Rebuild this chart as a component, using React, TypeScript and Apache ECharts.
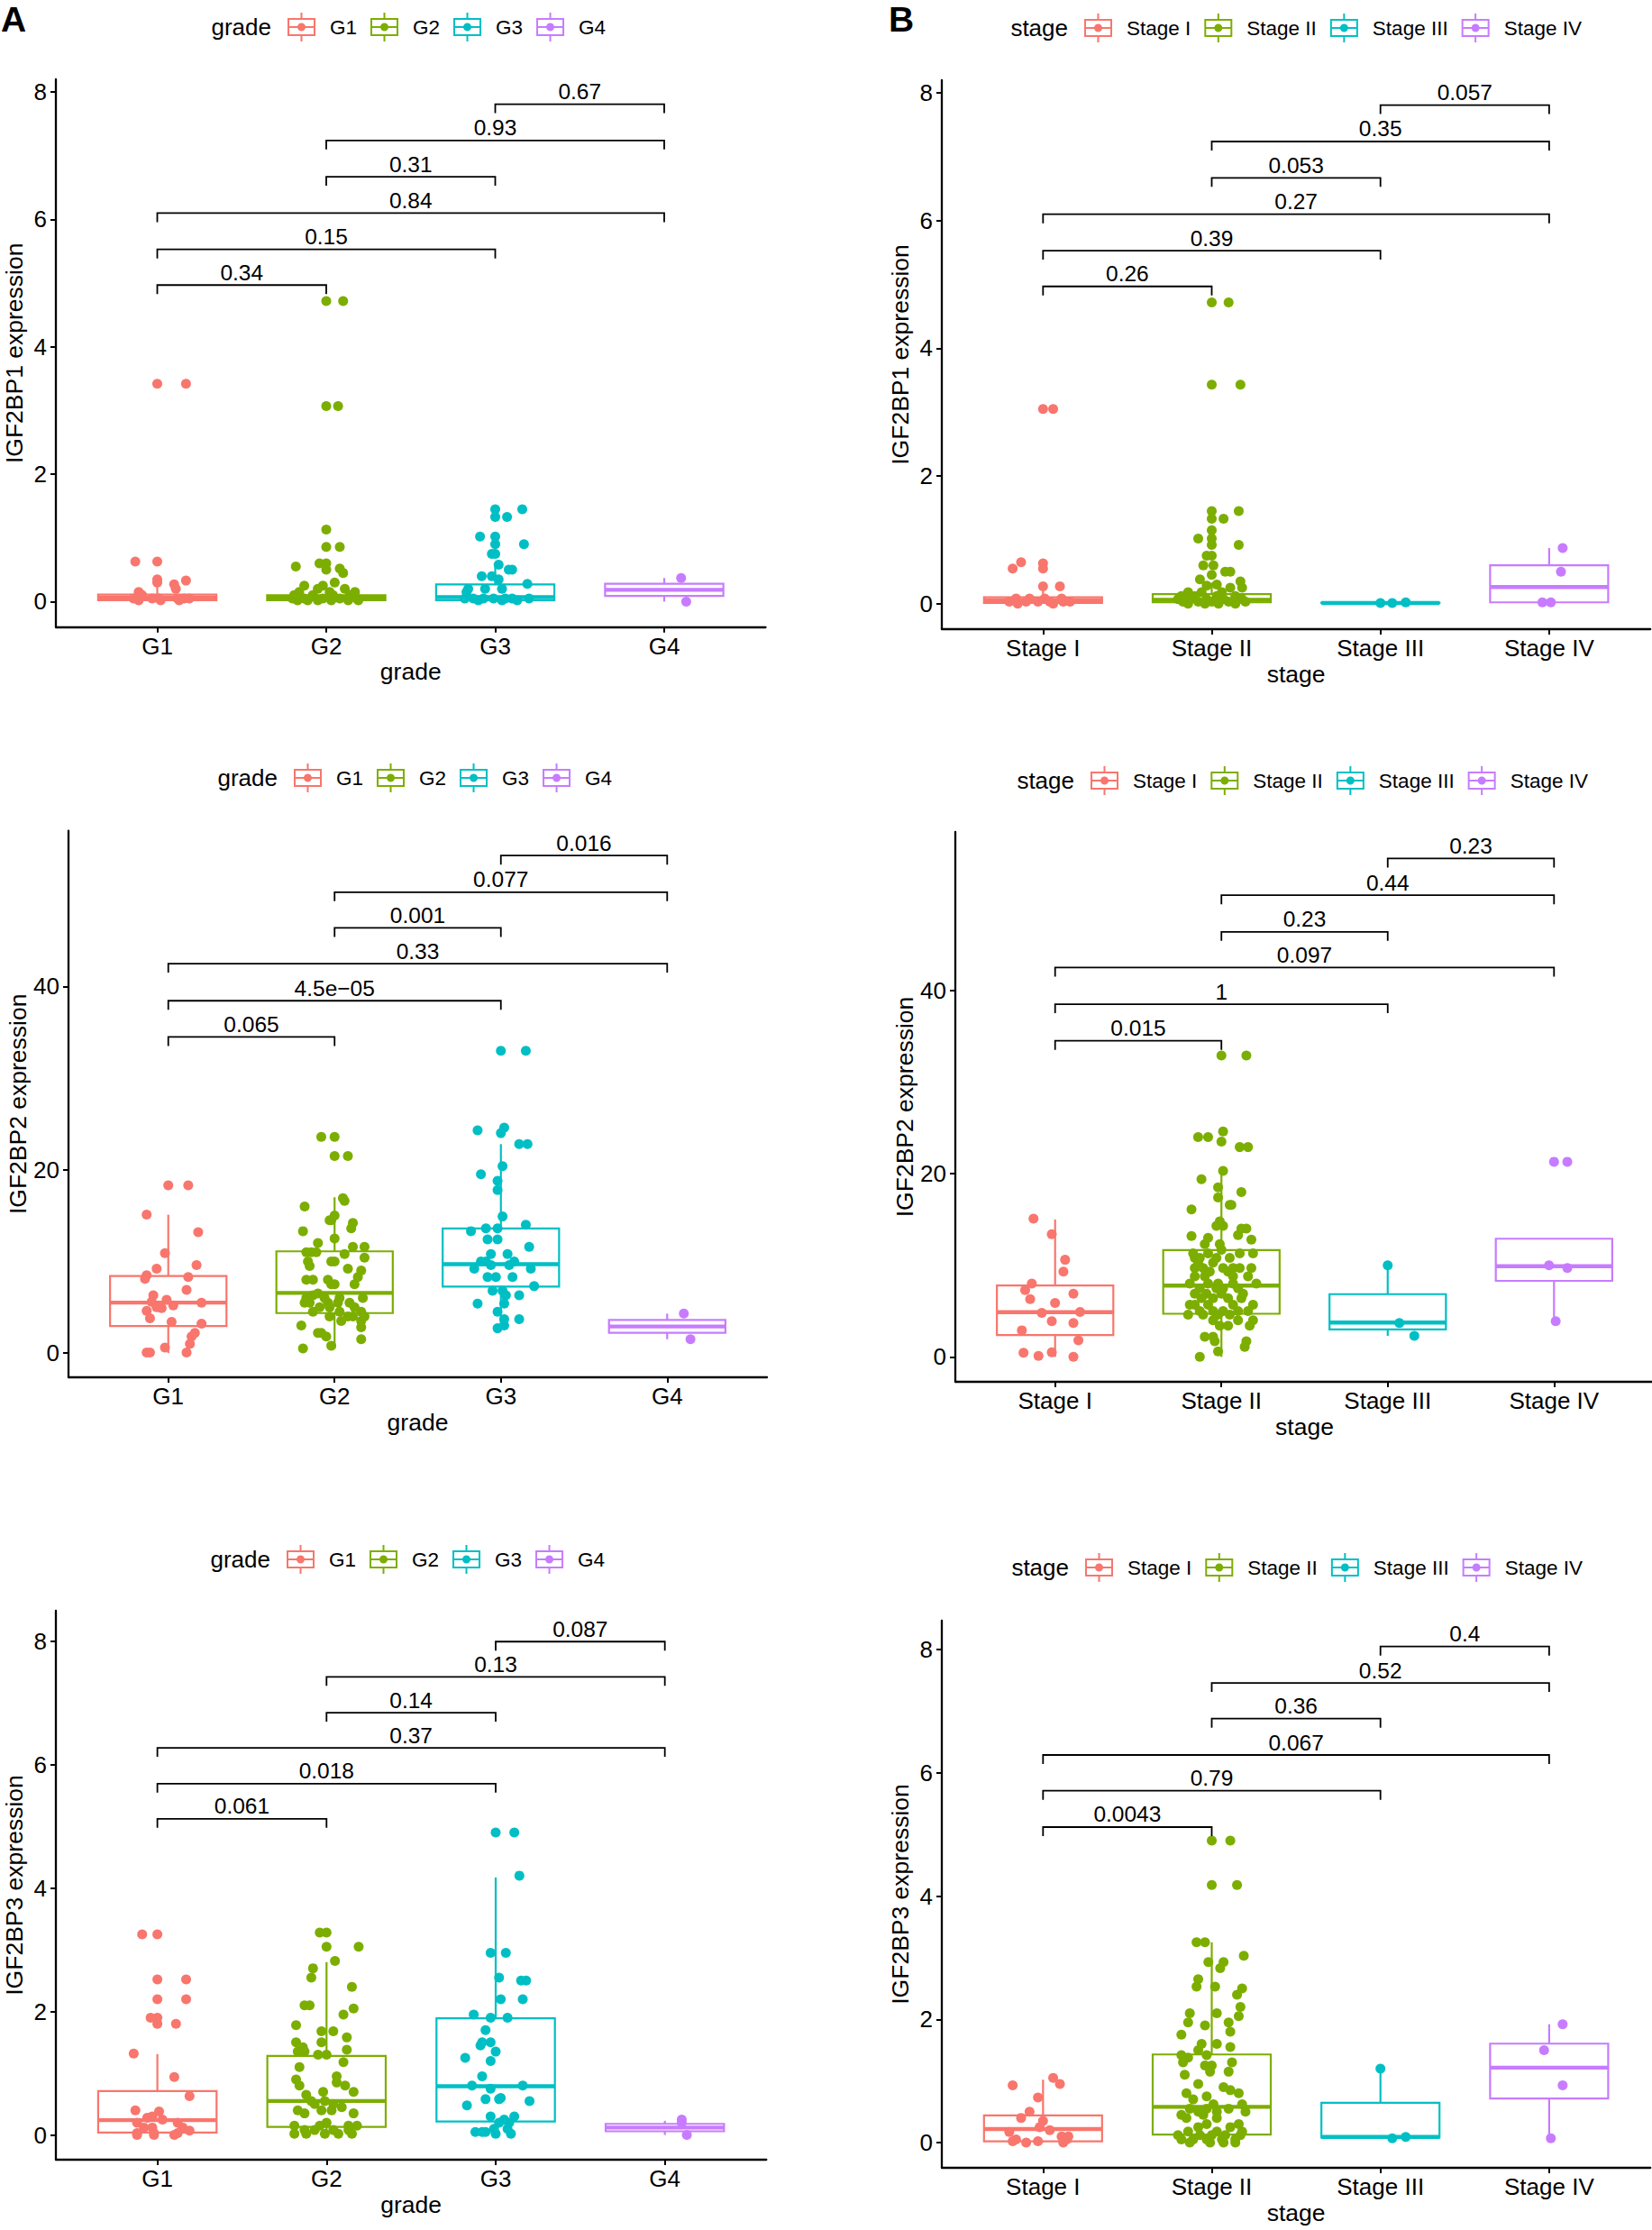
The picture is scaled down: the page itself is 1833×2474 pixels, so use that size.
import React, { useEffect, useRef } from "react";
import * as echarts from "echarts";

const FONT = '"Liberation Sans", Arial, Helvetica, sans-serif';
const GRADES = ["G1", "G2", "G3", "G4"];
const STAGES = ["Stage I", "Stage II", "Stage III", "Stage IV"];
const COLORS = ["#F8766D", "#7CAE00", "#00BFC4", "#C77CFF"];
const PAIRS = [[1, 2], [1, 3], [1, 4], [2, 3], [2, 4], [3, 4]];
const Y_TICKS_SMALL = [0, 2, 4, 6, 8];
const Y_TICKS_LARGE = [0, 20, 40];

// ---------- IGF2BP1 by grade (A1) ----------
const A1_BOX = [[0, 0.02, 0.06, 0.11, 0.25], [0, 0.02, 0.06, 0.1, 0.2], [0, 0.02, 0.07, 0.27, 0.6], [0, 0.09, 0.185, 0.28, 0.37]];
const A1_G1 = [[0, 3.42], [0.17, 3.42], [-0.13, 0.63], [0, 0.63], [0, 0.35], [0, 0.3], [0.17, 0.33], [0.1, 0.27], [0.11, 0.2], [-0.11, 0.15], [-0.1, 0.12], [-0.09, 0.1], [-0.14, 0.05], [-0.03, 0.05], [0.01, 0.05], [0.12, 0.05], [0.16, 0.05], [0.19, 0.05], [-0.11, 0.02], [0.02, 0.02], [0.13, 0.02]];
const A1_G2 = [[0, 4.72], [0.1, 4.72], [0, 3.07], [0.07, 3.07], [0, 1.13], [0, 0.86], [0.08, 0.86], [-0.18, 0.55], [-0.04, 0.6], [0, 0.6], [0, 0.5], [0.08, 0.52], [0.1, 0.45], [0.05, 0.3], [-0.13, 0.25], [-0.02, 0.25], [-0.05, 0.2], [0.11, 0.2], [-0.16, 0.15], [0.02, 0.15], [0.17, 0.15], [-0.19, 0.1], [-0.08, 0.1], [0.04, 0.1], [0.14, 0.1], [-0.2, 0.05], [-0.13, 0.05], [-0.02, 0.05], [0.08, 0.05], [0.18, 0.05], [-0.17, 0.02], [-0.11, 0.02], [-0.05, 0.02], [0.03, 0.02], [0.13, 0.02], [0.19, 0.02]];
const A1_G3 = [[0, 1.45], [0.16, 1.45], [0, 1.33], [0.07, 1.33], [-0.09, 1.02], [0, 1.02], [0, 0.9], [0.17, 0.9], [-0.02, 0.75], [0, 0.75], [0.02, 0.58], [0.08, 0.5], [0.1, 0.5], [-0.08, 0.4], [-0.02, 0.4], [0.02, 0.35], [0.19, 0.28], [-0.16, 0.2], [-0.06, 0.2], [0.04, 0.2], [-0.17, 0.15], [-0.18, 0.05], [-0.13, 0.05], [-0.07, 0.05], [-0.01, 0.05], [0.06, 0.05], [0.1, 0.05], [0.2, 0.05], [-0.1, 0.02], [0.04, 0.02], [0.13, 0.02]];
const A1_G4 = [[0.1, 0.37], [0.13, 0]];
const A1_BRACKET_Y = [4.97, 5.53, 6.1, 6.67, 7.24, 7.81];
const A1_P = ["0.34", "0.15", "0.84", "0.31", "0.93", "0.67"];

// ---------- IGF2BP1 by stage (B1) ----------
const B1_BOX = [[0, 0.01, 0.05, 0.1, 0.2], [0, 0.02, 0.06, 0.15, 0.33], [0.01, 0.01, 0.01, 0.015, 0.02], [0.02, 0.02, 0.26, 0.6, 0.87]];
const B1_S1 = [[0, 3.05], [0.06, 3.05], [-0.13, 0.65], [-0.18, 0.55], [0, 0.63], [0, 0.55], [0, 0.27], [0.1, 0.27], [-0.16, 0.08], [-0.08, 0.08], [0.01, 0.08], [0.11, 0.08], [-0.2, 0.03], [-0.1, 0.03], [-0.03, 0.03], [0.04, 0.03], [0.12, 0.03], [0.16, 0.03], [-0.15, 0], [0.06, 0]];
const B1_S2 = [[0, 4.72], [0.1, 4.72], [0, 3.43], [0.17, 3.43], [0, 1.45], [0.16, 1.45], [0.07, 1.33], [0, 1.33], [0, 1.15], [-0.08, 1.02], [0, 1.02], [0, 0.92], [0.16, 0.92], [-0.03, 0.75], [0, 0.75], [-0.05, 0.6], [0.01, 0.6], [0.08, 0.5], [0.11, 0.5], [0, 0.45], [-0.07, 0.38], [0.17, 0.35], [0.11, 0.25], [0.18, 0.25], [0.03, 0.3], [-0.03, 0.28], [-0.14, 0.18], [-0.06, 0.18], [0.06, 0.18], [-0.18, 0.12], [-0.1, 0.12], [0.03, 0.12], [0.14, 0.12], [-0.2, 0.07], [-0.13, 0.07], [-0.03, 0.07], [0.07, 0.07], [0.18, 0.07], [-0.17, 0.03], [-0.08, 0.03], [0, 0.03], [0.1, 0.03], [0.2, 0.03], [-0.14, 0], [-0.04, 0], [0.04, 0], [0.14, 0]];
const B1_S3 = [[0, 0.01], [0.07, 0.01], [0.15, 0.02]];
const B1_S4 = [[0.08, 0.87], [0.07, 0.5], [-0.04, 0.02], [0.01, 0.02]];
const B1_BRACKET_Y = [4.97, 5.53, 6.1, 6.67, 7.24, 7.81];
const B1_P = ["0.26", "0.39", "0.27", "0.053", "0.35", "0.057"];

// ---------- IGF2BP2 by grade (A2) ----------
const A2_BOX = [[0, 2.95, 5.5, 8.4, 15.1], [0.5, 4.36, 6.56, 11.1, 17.0], [2.7, 7.25, 9.7, 13.6, 22.8], [1.5, 2.2, 2.9, 3.6, 4.3]];
const A2_G1 = [[0, 18.3], [0.12, 18.3], [-0.13, 15.1], [0.18, 13.2], [-0.02, 10.9], [0.17, 9.6], [-0.07, 9.2], [-0.13, 8.5], [-0.14, 8.1], [0.12, 8.3], [0.11, 6.9], [-0.09, 6.3], [-0.01, 5.8], [-0.1, 5.6], [0.2, 5.5], [0.03, 5.2], [-0.07, 5.0], [-0.04, 4.9], [-0.13, 4.6], [-0.11, 3.8], [0.02, 3.4], [0.2, 3.2], [0.16, 2.2], [0.14, 1.8], [0.13, 1.0], [-0.02, 0.6], [-0.13, 0.05], [-0.11, 0.05], [0.11, 0.05]];
const A2_G2 = [[-0.08, 23.6], [0, 23.6], [0, 21.5], [0.08, 21.5], [0.05, 16.9], [0.06, 16.6], [-0.18, 16.0], [0, 15.0], [-0.02, 14.5], [-0.03, 14.5], [0.11, 14.2], [0.1, 13.6], [-0.19, 13.3], [0, 12.5], [-0.1, 12.0], [0.11, 11.6], [0.18, 11.6], [-0.17, 11.0], [-0.14, 11.0], [-0.11, 11.0], [0.06, 10.8], [0.18, 10.4], [-0.16, 10.0], [-0.02, 10.0], [0, 10.0], [-0.15, 9.5], [0.08, 9.2], [0.16, 9.0], [0.14, 8.3], [-0.17, 8.0], [-0.13, 8.0], [-0.04, 8.0], [-0.02, 7.5], [0, 7.5], [0.12, 7.5], [-0.1, 6.5], [-0.13, 6.3], [-0.17, 6.0], [-0.06, 6.0], [0.03, 6.0], [0.17, 6.0], [-0.18, 5.5], [-0.15, 5.5], [-0.04, 5.5], [0.02, 5.5], [0.09, 5.5], [-0.09, 5.0], [-0.03, 5.0], [0.12, 5.0], [-0.13, 4.5], [0.03, 4.5], [0.16, 4.5], [-0.03, 4.0], [0.08, 4.0], [0.11, 4.0], [0.18, 4.0], [0.04, 3.5], [0.16, 3.5], [-0.2, 3.0], [0.16, 2.8], [-0.1, 2.2], [-0.08, 2.2], [-0.05, 1.8], [0.16, 1.5], [-0.02, 0.8], [-0.19, 0.5]];
const A2_G3 = [[0, 33.0], [0.15, 33.0], [0.02, 24.6], [0, 24.0], [-0.14, 24.3], [0.11, 22.8], [0.16, 22.8], [0.01, 20.4], [-0.12, 19.5], [-0.02, 18.8], [-0.02, 17.8], [0.01, 14.9], [0.15, 14.0], [-0.09, 13.6], [-0.02, 13.6], [-0.18, 13.3], [-0.08, 12.4], [-0.02, 12.4], [0.17, 11.6], [-0.06, 10.8], [0.04, 10.8], [-0.12, 10.0], [-0.09, 10.0], [0.08, 10.0], [-0.06, 9.6], [0.05, 9.6], [-0.16, 9.2], [0.18, 9.2], [-0.08, 8.3], [-0.03, 8.3], [0.07, 8.3], [0.2, 7.3], [-0.05, 6.8], [0.01, 6.8], [0.03, 6.3], [0.11, 6.3], [-0.14, 5.4], [0.02, 5.4], [-0.02, 4.5], [0.02, 3.7], [0.11, 3.7], [0.02, 3.0], [-0.02, 2.7]];
const A2_G4 = [[0.1, 4.3], [0.14, 1.5]];
const A2_BRACKET_Y = [34.5, 38.45, 42.5, 46.4, 50.3, 54.3];
const A2_P = ["0.065", "4.5e\u221205", "0.33", "0.001", "0.077", "0.016"];

// ---------- IGF2BP2 by stage (B2) ----------
const B2_BOX = [[0, 2.39, 4.88, 7.79, 15.0], [0, 4.71, 7.79, 11.65, 20.0], [2.3, 3.0, 3.75, 6.85, 10.0], [3.9, 8.3, 9.9, 12.9, 12.9]];
const B2_S1 = [[-0.13, 15.1], [-0.02, 13.4], [0.06, 10.6], [0.05, 9.3], [-0.14, 8.0], [-0.18, 7.3], [0.11, 6.9], [-0.15, 6.3], [0, 5.9], [-0.08, 4.8], [0.15, 4.9], [-0.02, 3.9], [0.11, 3.7], [-0.2, 2.9], [0.14, 1.8], [-0.19, 0.45], [-0.02, 0.5], [-0.1, 0.1], [0.11, 0]];
const B2_S2 = [[0, 32.9], [0.15, 32.9], [0.01, 24.6], [-0.14, 24.0], [-0.08, 24.0], [0, 23.5], [0.11, 22.9], [0.16, 22.9], [0.01, 20.3], [-0.12, 19.4], [-0.02, 18.5], [0.12, 18.0], [-0.02, 17.4], [0.05, 16.6], [0.06, 16.6], [-0.18, 16.1], [-0.01, 14.8], [-0.03, 14.3], [0.01, 14.3], [0.12, 14.0], [0.15, 14.0], [0.1, 13.3], [-0.08, 13.0], [-0.18, 13.2], [0.18, 12.8], [-0.1, 12.3], [-0.01, 12.3], [0, 11.7], [-0.17, 11.3], [-0.08, 11.3], [0.11, 11.3], [0.19, 11.3], [-0.16, 10.8], [-0.13, 10.8], [-0.03, 10.8], [0.05, 10.8], [-0.14, 10.3], [-0.05, 10.3], [-0.16, 9.7], [-0.11, 9.7], [0.01, 9.7], [0.07, 9.7], [0.11, 9.7], [0.18, 9.7], [-0.07, 9.3], [0.04, 9.3], [-0.16, 8.8], [-0.1, 8.8], [0.07, 8.8], [0.16, 8.8], [-0.19, 8.0], [-0.08, 8.0], [-0.02, 8.0], [0.07, 8.0], [0.21, 8.0], [-0.13, 7.5], [-0.03, 7.5], [0.01, 7.5], [0.1, 7.5], [-0.16, 6.9], [-0.09, 6.9], [0, 6.9], [0.13, 6.9], [-0.12, 6.4], [-0.05, 6.4], [0.04, 6.4], [0.12, 6.4], [-0.19, 5.7], [-0.16, 5.7], [-0.08, 5.7], [0.07, 5.7], [0.19, 5.7], [-0.13, 5.0], [-0.05, 5.0], [0.01, 5.0], [0.1, 5.0], [0.16, 5.0], [-0.2, 4.6], [-0.11, 4.6], [-0.02, 4.6], [0.05, 4.6], [-0.05, 4.0], [0.1, 4.0], [0.19, 4.0], [-0.01, 3.4], [0.04, 3.4], [0.17, 3.4], [-0.1, 2.2], [-0.05, 2.2], [-0.04, 1.7], [0.15, 1.7], [0.14, 1.1], [-0.02, 0.6], [-0.13, 0]];
const B2_S3 = [[0, 10.0], [0.07, 3.7], [0.16, 2.3]];
const B2_S4 = [[0, 21.3], [0.08, 21.3], [-0.03, 10.0], [0.08, 9.7], [0.01, 3.9]];
const B2_BRACKET_Y = [34.5, 38.5, 42.5, 46.4, 50.4, 54.4];
const B2_P = ["0.015", "1", "0.097", "0.23", "0.44", "0.23"];

// ---------- IGF2BP3 by grade (A3) ----------
const A3_BOX = [[0, 0.04, 0.24, 0.71, 1.31], [0, 0.13, 0.55, 1.28, 2.8], [0, 0.22, 0.79, 1.89, 4.17], [0, 0.06, 0.12, 0.18, 0.23]];
const A3_G1 = [[-0.09, 3.25], [0, 3.25], [0, 2.52], [0.17, 2.52], [0, 2.2], [0.17, 2.2], [-0.04, 1.9], [0, 1.9], [0, 1.8], [0.11, 1.8], [-0.14, 1.32], [0.1, 0.94], [0.19, 0.63], [-0.13, 0.4], [0.01, 0.38], [-0.03, 0.3], [-0.06, 0.28], [0.03, 0.25], [-0.12, 0.2], [0.12, 0.2], [-0.08, 0.12], [-0.03, 0.12], [0.15, 0.12], [0.19, 0.07], [-0.12, 0.03], [-0.02, 0.03], [0.12, 0.03], [-0.12, 0], [-0.02, 0], [0.1, 0]];
const A3_G2 = [[-0.04, 3.28], [0, 3.28], [0, 3.05], [0.19, 3.05], [0.05, 2.82], [-0.08, 2.7], [-0.09, 2.55], [0.15, 2.4], [-0.13, 2.1], [-0.1, 2.1], [0.16, 2.05], [0.1, 1.95], [-0.18, 1.78], [-0.03, 1.68], [0.04, 1.68], [0.12, 1.58], [-0.18, 1.5], [-0.03, 1.5], [-0.14, 1.42], [0.12, 1.38], [-0.17, 1.35], [-0.13, 1.35], [-0.05, 1.3], [0, 1.3], [0.1, 1.18], [-0.16, 1.1], [0.06, 0.95], [-0.18, 0.9], [0.06, 0.85], [-0.16, 0.8], [0.11, 0.8], [-0.02, 0.7], [0.16, 0.7], [-0.12, 0.65], [-0.09, 0.55], [-0.01, 0.55], [-0.07, 0.5], [0.04, 0.5], [0.09, 0.45], [-0.17, 0.4], [-0.03, 0.4], [0.03, 0.4], [-0.13, 0.35], [0.16, 0.35], [0, 0.2], [-0.19, 0.15], [-0.04, 0.15], [0.13, 0.15], [0.18, 0.15], [-0.13, 0.08], [-0.07, 0.08], [0.04, 0.08], [0.13, 0.08], [-0.19, 0.02], [-0.12, 0.02], [-0.01, 0.02], [0.07, 0.02], [0.15, 0.02]];
const A3_G3 = [[0, 4.9], [0.11, 4.9], [0.14, 4.2], [-0.03, 2.95], [0.06, 2.95], [0.02, 2.55], [0.15, 2.5], [0.18, 2.5], [0.03, 2.2], [0.16, 2.2], [-0.13, 1.95], [-0.03, 1.9], [0.07, 1.9], [-0.06, 1.7], [-0.08, 1.5], [-0.03, 1.5], [-0.09, 1.45], [0, 1.35], [-0.18, 1.25], [-0.03, 1.2], [-0.08, 0.95], [-0.14, 0.8], [0.16, 0.8], [-0.03, 0.75], [0.03, 0.6], [-0.06, 0.58], [0.02, 0.58], [0.2, 0.55], [-0.17, 0.48], [-0.03, 0.3], [0.11, 0.3], [0.05, 0.25], [0.02, 0.2], [0.08, 0.2], [-0.01, 0.1], [0.07, 0.1], [-0.12, 0.05], [-0.08, 0.05], [-0.06, 0.05], [0, 0.02], [0.09, 0.02]];
const A3_G4 = [[0.1, 0.25], [0.1, 0.2], [0.13, 0]];
const A3_BRACKET_Y = [5.12, 5.69, 6.27, 6.84, 7.42, 7.99];
const A3_P = ["0.061", "0.018", "0.37", "0.14", "0.13", "0.087"];

// ---------- IGF2BP3 by stage (B3) ----------
const B3_BOX = [[0, 0.02, 0.22, 0.44, 1.02], [0, 0.13, 0.58, 1.43, 3.25], [0.07, 0.08, 0.09, 0.645, 1.2], [0.07, 0.715, 1.215, 1.605, 1.92]];
const B3_S1 = [[0.06, 1.05], [0.1, 0.95], [-0.18, 0.93], [-0.03, 0.73], [-0.08, 0.5], [-0.13, 0.4], [0, 0.35], [-0.02, 0.25], [0.04, 0.2], [-0.2, 0.17], [0.11, 0.1], [0.15, 0.1], [-0.16, 0.05], [0.14, 0.05], [-0.18, 0.02], [-0.1, 0], [-0.03, 0.02], [0.12, 0]];
const B3_S2 = [[0, 4.9], [0.11, 4.9], [0, 4.18], [0.15, 4.18], [-0.09, 3.25], [-0.04, 3.25], [0.19, 3.03], [-0.02, 2.93], [0.07, 2.93], [0.05, 2.83], [-0.08, 2.65], [-0.09, 2.53], [0.02, 2.53], [0.18, 2.5], [0.15, 2.4], [0.17, 2.2], [-0.13, 2.1], [0.03, 2.1], [0.16, 2.05], [-0.14, 1.95], [0.1, 1.95], [-0.04, 1.9], [0.11, 1.8], [-0.18, 1.75], [-0.06, 1.6], [0.03, 1.6], [0.11, 1.55], [-0.08, 1.5], [-0.18, 1.42], [-0.03, 1.42], [-0.14, 1.38], [-0.17, 1.3], [0.12, 1.3], [-0.04, 1.25], [0, 1.25], [-0.01, 1.15], [0.1, 1.15], [-0.16, 1.1], [-0.08, 0.95], [0.07, 0.9], [0.11, 0.85], [-0.15, 0.8], [0.16, 0.8], [-0.03, 0.75], [-0.11, 0.7], [0.01, 0.62], [0.18, 0.62], [-0.13, 0.55], [-0.03, 0.55], [0.1, 0.55], [-0.08, 0.5], [0.03, 0.5], [0.2, 0.5], [-0.18, 0.45], [-0.05, 0.45], [-0.15, 0.4], [0.03, 0.4], [-0.03, 0.3], [0.16, 0.3], [-0.08, 0.25], [0.11, 0.25], [-0.14, 0.18], [0.03, 0.18], [0.18, 0.18], [-0.2, 0.12], [-0.07, 0.12], [0, 0.12], [0.08, 0.12], [0.17, 0.12], [-0.18, 0.05], [-0.11, 0.05], [-0.03, 0.05], [0.06, 0.05], [0.14, 0.05], [-0.13, 0], [-0.01, 0], [0.07, 0], [0.14, 0]];
const B3_S3 = [[0, 1.2], [0.07, 0.07], [0.15, 0.09]];
const B3_S4 = [[0.08, 1.92], [-0.03, 1.5], [0.08, 0.93], [0.01, 0.07]];
const B3_BRACKET_Y = [5.12, 5.71, 6.29, 6.88, 7.46, 8.05];
const B3_P = ["0.0043", "0.79", "0.067", "0.36", "0.52", "0.4"];

// ---------- layout (positions / sizes only) ----------
const PANELS = [
  { cats: GRADES, box: A1_BOX, pts: [A1_G1, A1_G2, A1_G3, A1_G4], by: A1_BRACKET_Y, bp: A1_P, yname: "IGF2BP1 expression", xname: "grade", ymin: -0.4, ymax: 8.2, yticks: Y_TICKS_SMALL, grid: { left: 62, top: 88, width: 787.5, height: 607.7 }, legendLeft: 319, legendCY: 30 },
  { cats: STAGES, box: B1_BOX, pts: [B1_S1, B1_S2, B1_S3, B1_S4], by: B1_BRACKET_Y, bp: B1_P, yname: "IGF2BP1 expression", xname: "stage", ymin: -0.4, ymax: 8.2, yticks: Y_TICKS_SMALL, grid: { left: 1045, top: 89, width: 786.2, height: 609 }, legendLeft: 1203, legendCY: 31 },
  { cats: GRADES, box: A2_BOX, pts: [A2_G1, A2_G2, A2_G3, A2_G4], by: A2_BRACKET_Y, bp: A2_P, yname: "IGF2BP2 expression", xname: "grade", ymin: -2.65, ymax: 57.0, yticks: Y_TICKS_LARGE, grid: { left: 76, top: 921.7, width: 775, height: 606.3 }, legendLeft: 326, legendCY: 863 },
  { cats: STAGES, box: B2_BOX, pts: [B2_S1, B2_S2, B2_S3, B2_S4], by: B2_BRACKET_Y, bp: B2_P, yname: "IGF2BP2 expression", xname: "stage", ymin: -2.72, ymax: 57.3, yticks: Y_TICKS_LARGE, grid: { left: 1060, top: 923, width: 775, height: 610 }, legendLeft: 1210, legendCY: 866 },
  { cats: GRADES, box: A3_BOX, pts: [A3_G1, A3_G2, A3_G3, A3_G4], by: A3_BRACKET_Y, bp: A3_P, yname: "IGF2BP3 expression", xname: "grade", ymin: -0.4, ymax: 8.49, yticks: Y_TICKS_SMALL, grid: { left: 62, top: 1787, width: 788.3, height: 609 }, legendLeft: 318, legendCY: 1730 },
  { cats: STAGES, box: B3_BOX, pts: [B3_S1, B3_S2, B3_S3, B3_S4], by: B3_BRACKET_Y, bp: B3_P, yname: "IGF2BP3 expression", xname: "stage", ymin: -0.41, ymax: 8.47, yticks: Y_TICKS_SMALL, grid: { left: 1045, top: 1798, width: 786.2, height: 607 }, legendLeft: 1204, legendCY: 1739 },
];

const BOX_HALF = 0.35;
const LEGEND_ICON =
  "path://M0 6H31V26H0Z M2 8V24H29V8Z M2 15H29V17H2Z M14.5 0H16.5V6H14.5Z M14.5 26H16.5V32H14.5Z M11 16A4.5 4.5 0 1 1 20 16A4.5 4.5 0 1 1 11 16Z";

function buildOption() {
  const grid: any[] = [];
  const xAxis: any[] = [];
  const yAxis: any[] = [];
  const series: any[] = [];
  const legend: any[] = [];
  const graphic: any[] = [];

  PANELS.forEach((p, i) => {
    grid.push({ ...p.grid, containLabel: false, outerBoundsMode: "none" });
    xAxis.push({
      gridIndex: i,
      type: "value",
      min: 0.4,
      max: 4.6,
      splitLine: { show: false },
      axisLine: { show: true, onZero: false, lineStyle: { color: "#000", width: 2.3 } },
      axisTick: { show: true, customValues: [1, 2, 3, 4], length: 6, lineStyle: { color: "#000", width: 2 } },
      axisLabel: {
        customValues: [1, 2, 3, 4],
        formatter: (v: number) => p.cats[Math.round(v) - 1] || "",
        fontSize: 26,
        fontFamily: FONT,
        color: "#000",
        margin: 8,
      },
      name: p.xname,
      nameLocation: "middle",
      nameGap: 36,
      nameTextStyle: { fontSize: 26.5, fontFamily: FONT, color: "#000" },
    });
    yAxis.push({
      gridIndex: i,
      type: "value",
      min: p.ymin,
      max: p.ymax,
      splitLine: { show: false },
      axisLine: { show: true, onZero: false, lineStyle: { color: "#000", width: 2.3 } },
      axisTick: { show: true, customValues: p.yticks, length: 6, lineStyle: { color: "#000", width: 2 } },
      axisLabel: { customValues: p.yticks, fontSize: 26, fontFamily: FONT, color: "#000", margin: 10 },
      name: p.yname,
      nameLocation: "middle",
      nameRotate: 90,
      nameGap: 33,
      nameTextStyle: { fontSize: 26.5, fontFamily: FONT, color: "#000" },
    });

    // boxes
    series.push({
      type: "custom",
      xAxisIndex: i,
      yAxisIndex: i,
      silent: true,
      z: 2,
      clip: false,
      encode: { x: 0, y: [1, 2, 3, 4, 5] },
      data: p.box.map((b, g) => [g + 1, ...b]),
      renderItem: (params: any, api: any) => {
        const x = api.value(0);
        const mn = api.value(1), q1 = api.value(2), md = api.value(3), q3 = api.value(4), mx = api.value(5);
        const color = COLORS[params.dataIndex];
        const tl = api.coord([x - BOX_HALF, q3]);
        const br = api.coord([x + BOX_HALF, q1]);
        const top = api.coord([x, mx]);
        const bot = api.coord([x, mn]);
        const ml = api.coord([x - BOX_HALF, md]);
        const mr = api.coord([x + BOX_HALF, md]);
        return {
          type: "group",
          children: [
            { type: "line", shape: { x1: top[0], y1: top[1], x2: top[0], y2: tl[1] }, style: { stroke: color, lineWidth: 2.2 } },
            { type: "line", shape: { x1: bot[0], y1: br[1], x2: bot[0], y2: bot[1] }, style: { stroke: color, lineWidth: 2.2 } },
            { type: "rect", shape: { x: tl[0], y: tl[1], width: br[0] - tl[0], height: br[1] - tl[1] }, style: { fill: "#fff", stroke: color, lineWidth: 2.2 } },
            { type: "line", shape: { x1: ml[0], y1: ml[1], x2: mr[0], y2: mr[1] }, style: { stroke: color, lineWidth: 4.4 } },
          ],
        };
      },
    });

    // jittered points
    p.pts.forEach((arr, g) => {
      series.push({
        type: "scatter",
        name: p.cats[g],
        xAxisIndex: i,
        yAxisIndex: i,
        silent: true,
        z: 3,
        symbol: "circle",
        symbolSize: 11,
        itemStyle: { color: COLORS[g], opacity: 1 },
        data: arr.map(([j, v]) => [g + 1 + j, v]),
      });
    });

    // significance brackets
    const labels = p.bp;
    series.push({
      type: "custom",
      xAxisIndex: i,
      yAxisIndex: i,
      silent: true,
      z: 4,
      clip: false,
      encode: { x: [0, 1], y: 2 },
      data: PAIRS.map((pr, k) => [pr[0], pr[1], p.by[k]]),
      renderItem: (params: any, api: any) => {
        const a = api.coord([api.value(0), api.value(2)]);
        const b = api.coord([api.value(1), api.value(2)]);
        return {
          type: "group",
          children: [
            {
              type: "polyline",
              shape: { points: [[a[0], a[1] + 10], [a[0], a[1]], [b[0], b[1]], [b[0], b[1] + 10]] },
              style: { stroke: "#000", fill: "none", lineWidth: 1.8 },
            },
            {
              type: "text",
              x: (a[0] + b[0]) / 2,
              y: a[1] - 14,
              style: { text: labels[params.dataIndex], fill: "#000", fontSize: 24.5, fontFamily: FONT, align: "center", verticalAlign: "middle" },
            },
          ],
        };
      },
    });

    legend.push({
      left: p.legendLeft,
      top: p.legendCY - 16,
      orient: "horizontal",
      padding: 0,
      itemGap: 15,
      itemWidth: 31,
      itemHeight: 32,
      icon: LEGEND_ICON,
      selectedMode: false,
      data: p.cats,
      textStyle: { fontSize: 22.5, fontFamily: FONT, color: "#000", padding: [0, 0, 0, 11] },
    });

    graphic.push({
      type: "text",
      x: p.legendLeft - 18,
      y: p.legendCY,
      silent: true,
      style: { text: p.xname, fill: "#000", fontSize: 26, fontFamily: FONT, align: "right", verticalAlign: "middle" },
    });
  });

  graphic.push({ type: "text", x: 1, y: 21, silent: true, style: { text: "A", fill: "#000", fontSize: 39, fontWeight: "bold", fontFamily: FONT, align: "left", verticalAlign: "middle" } });
  graphic.push({ type: "text", x: 986, y: 21, silent: true, style: { text: "B", fill: "#000", fontSize: 39, fontWeight: "bold", fontFamily: FONT, align: "left", verticalAlign: "middle" } });

  return {
    animation: false,
    backgroundColor: "#fff",
    tooltip: { show: false },
    grid,
    xAxis,
    yAxis,
    legend,
    graphic,
    series,
  };
}

export default function App() {
  const ref = useRef<HTMLDivElement>(null);
  useEffect(() => {
    document.body.style.margin = "0";
    if (!ref.current) return;
    const chart = echarts.init(ref.current, undefined, { renderer: "svg" });
    chart.setOption(buildOption() as any);
    return () => chart.dispose();
  }, []);
  return <div ref={ref} style={{ width: 1833, height: 2474, position: "absolute", left: 0, top: 0 }} />;
}
